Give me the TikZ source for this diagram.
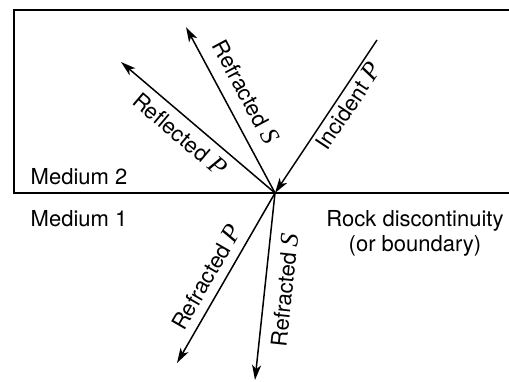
\documentclass[tikz,border=0pt]{standalone}
\usepackage{fontspec}
\setmainfont{TeX Gyre Heros}
\newfontfamily\wavefont{Liberation Serif}
\usetikzlibrary{arrows.meta}
\newcommand{\wave}[1]{{\wavefont\itshape\fontsize{26}{26}\selectfont #1}}

\begin{document}
\begin{tikzpicture}[x=1pt,y=-1pt,
  font=\fontsize{22}{25}\selectfont,
  ray/.style={line width=1.5pt, -{Stealth[length=15pt,width=9pt,inset=4pt]}},
  frame/.style={line width=1.9pt},
  lbl/.style={inner sep=0pt}]
\useasboundingbox (0,0) rectangle (509,381);

% boundary between the two media and the upper box
\coordinate (tl) at (14,10);
\coordinate (bl) at (14,193);
\coordinate (tr) at (509,10);
\coordinate (br) at (509,193);
\draw[frame] (tr) -- (tl) -- (bl) -- (br);

% point of incidence and ray end points
\coordinate (O) at (275,193);
\coordinate (inc) at (377,40);
\coordinate (upS) at (186,27);
\coordinate (upP) at (121,62);
\coordinate (dnP) at (177,363);
\coordinate (dnS) at (255,380);

\draw[ray] (inc) -- (O);
\draw[ray] (O) -- (upS);
\draw[ray] (O) -- (upP);
\draw[ray] (O) -- (dnP);
\draw[ray] (O) -- (dnS);

% ray labels
\node[lbl, rotate=56.3] (lInc) at (348,106) {Incident \wave{P}};
\node[lbl, rotate=-61.8] (lUpS) at (246,92) {Refracted \wave{S}};
\node[lbl, rotate=-40.4] (lUpP) at (180,134) {Reflected \wave{P}};
\node[lbl, rotate=60] (lDnP) at (206,277) {Refracted \wave{P}};
\node[lbl, rotate=83.9] (lDnS) at (284,290) {Refracted \wave{S}};

% media and boundary captions
\node[lbl] (m2) at (79,177) {Medium 2};
\node[lbl] (m1) at (79,219) {Medium 1};
\node[lbl, align=center] (rock) at (415,233) {Rock discontinuity\\(or boundary)};
\end{tikzpicture}
\end{document}
